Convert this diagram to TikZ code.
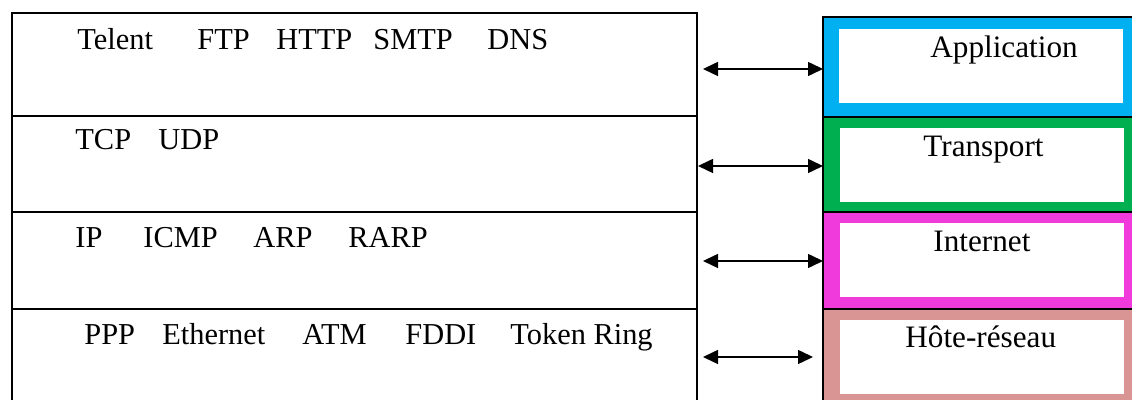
\documentclass[tikz,border=0pt]{standalone}
\usepackage{fontspec}
\setmainfont{Liberation Serif}
\usetikzlibrary{fit,arrows.meta}
\definecolor{appblue}{HTML}{00B0F0}
\definecolor{trgreen}{HTML}{00B050}
\definecolor{netpink}{HTML}{F03ADC}
\definecolor{hostrose}{HTML}{D99594}
\begin{document}
\begin{tikzpicture}[x=0.5pt,y=-0.5pt,
  proto/.style={anchor=base west,inner sep=0,font=\fontsize{15.2}{18}\selectfont},
  layername/.style={anchor=base west,inner sep=0,font=\fontsize{15.6}{18}\selectfont},
  band/.style={fit={#1},inner sep=0,outer sep=0,draw=black,line width=0.75pt},
  hole/.style={fit={#1},inner sep=0,outer sep=0,fill=white},
  arr/.style={{Triangle[length=7.5pt,width=7pt]}-{Triangle[length=7.5pt,width=7pt]},line width=0.75pt}]
\useasboundingbox (0,0) rectangle (1132,400);
\begin{scope}
\clip (0,0) rectangle (1132,400);
% protocol stack on the left
\draw[line width=1pt] (12,410) -- (12,13) -- (697,13) -- (697,410);
\draw[line width=1pt] (12,116) -- (697,116);
\draw[line width=1pt] (12,212) -- (697,212);
\draw[line width=1pt] (12,309) -- (697,309);
% layer boxes on the right
\node[band={(823,17) (1145,117)},fill=appblue] (app) {};
\node[band={(823,117) (1145,212)},fill=trgreen] (tra) {};
\node[band={(823,212) (1145,309)},fill=netpink] (net) {};
\node[band={(823,309) (1145,410)},fill=hostrose] (host) {};
\node[hole={(839,29) (1123,103)}] (appin) {};
\node[hole={(840,128) (1124,202)}] (train) {};
\node[hole={(840,223) (1124,297)}] (netin) {};
\node[hole={(840,320) (1124,394)}] (hostin) {};
\end{scope}
% protocols
\node[proto] (p1) at (77,50) {Telent};
\node[proto] (p2) at (197,50) {FTP};
\node[proto] (p3) at (276,50) {HTTP};
\node[proto] (p4) at (373,50) {SMTP};
\node[proto] (p5) at (487,50) {DNS};
\node[proto] (p6) at (75,150) {TCP};
\node[proto] (p7) at (158,150) {UDP};
\node[proto] (p8) at (75,248) {IP};
\node[proto] (p9) at (143,248) {ICMP};
\node[proto] (p10) at (253,248) {ARP};
\node[proto] (p11) at (348,248) {RARP};
\node[proto] (p12) at (84,345) {PPP};
\node[proto] (p13) at (162,345) {Ethernet};
\node[proto] (p14) at (302,345) {ATM};
\node[proto] (p15) at (405,345) {FDDI};
\node[proto] (p16) at (510,345) {Token Ring};
% layer names
\node[layername] (l1) at (930,58) {Application};
\node[layername] (l2) at (923,157) {Transport};
\node[layername] (l3) at (933,252) {Internet};
\node[layername] (l4) at (905,348) {Hôte-réseau};
% correspondence arrows
\coordinate (a1) at (703,69);
\coordinate (a2) at (698,166);
\coordinate (a3) at (703,261);
\coordinate (a4) at (703,357);
\coordinate (b4) at (813,357);
\draw[arr] (a1) -- (app.west |- a1);
\draw[arr] (a2) -- (tra.west |- a2);
\draw[arr] (a3) -- (net.west |- a3);
\draw[arr] (a4) -- (b4);
\end{tikzpicture}
\end{document}
